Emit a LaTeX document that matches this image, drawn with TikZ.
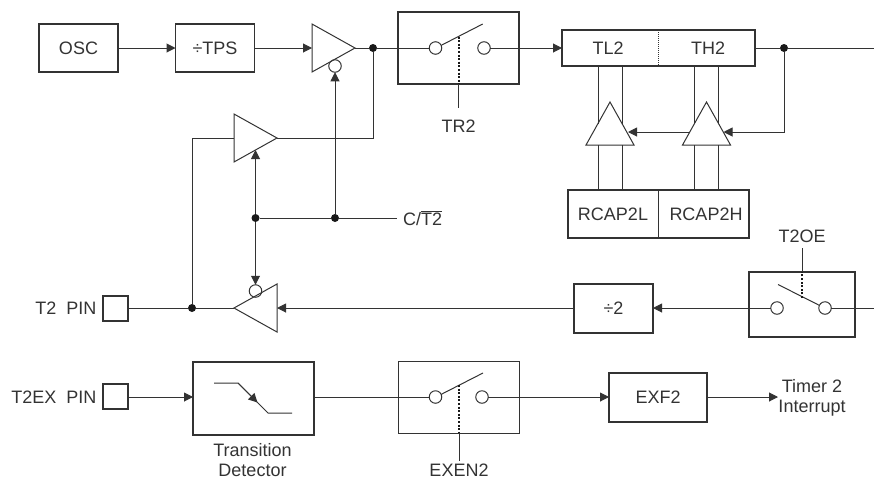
\documentclass[tikz,border=0pt]{standalone}
\usepackage{fontspec}
\setmainfont{Liberation Sans}
\usetikzlibrary{arrows.meta,shapes.geometric}
\definecolor{inkc}{gray}{0.2}
\tikzset{
    >={Triangle[length=9pt,width=9pt]},
    wire/.style={draw=inkc,line width=1pt},
    blockbox/.style={draw=inkc,line width=1.6pt,inner sep=0pt,outer sep=0pt,minimum width=#1},
    blockbox/.default=79pt,
    thinbox/.style={draw=inkc,line width=1pt,inner sep=0pt,outer sep=0pt},
    pinbox/.style={blockbox=25pt,minimum height=25pt},
    contact/.style={draw=inkc,circle,line width=1pt,inner sep=0pt,outer sep=0pt,minimum size=12.5pt},
    jdot/.style={fill=black!90,circle,inner sep=0pt,outer sep=0pt,minimum size=8pt},
    amp/.style={draw=inkc,line width=1pt,isosceles triangle,isosceles triangle stretches,
        inner sep=0pt,outer sep=0pt,shape border rotate=#1,anchor=lower side,
        minimum width=48pt,minimum height=43pt},
    lbl/.style={text=inkc,inner sep=0pt,align=center,font=\fontsize{18}{20.5}\selectfont},
    dots/.style={draw=black!90,line width=2pt,dash pattern=on 2pt off 1.6pt}
}
\begin{document}
\begin{tikzpicture}[x=1pt,y=-1pt]
    \useasboundingbox (0,0) rectangle (874,480);

    % top row
    \node[blockbox,minimum height=48pt] (osc) at (78.5,48) {};
    \node[lbl] at (osc) {OSC};
    \node[blockbox,minimum height=48pt] (tps) at (215,48) {};
    \node[lbl] at (tps) {÷TPS};
    \node[amp=0] (ampa) at (312,48) {};
    \node[contact] (bubblea) at (335,66) {};
    \node[jdot] (dota) at (373,48) {};
    \node[blockbox=121pt,minimum height=72pt] (swa) at (458.5,48) {};
    \node[contact] (cona) at (435.5,48) {};
    \node[contact] (conb) at (484,48) {};
    \coordinate (bladea) at (482.7,24);
    \coordinate (trd) at (458.5,36.5);
    \coordinate (trb) at (458.5,108);
    \node[lbl] (trlabel) at (458.5,126) {TR2};

    \draw[wire,->] (osc) -- (tps.west);
    \draw[wire,->] (tps) -- (ampa.lower side);
    \draw[wire] (ampa.apex) -- (dota) -- (cona);
    \draw[wire] (cona.25) -- (bladea);
    \draw[dots] (trd) -- (trd |- swa.south);
    \draw[wire] (trd |- swa.south) -- (trb);

    % timer registers
    \node[blockbox=193pt,minimum height=36pt] (cnt) at (658.5,48) {};
    \node[lbl] (tl) at (608,48) {TL2};
    \node[lbl] (th) at (708,48) {TH2};
    \node[blockbox=181pt,minimum height=48pt] (rcap) at (658.5,214) {};
    \node[lbl] (rl) at (613,214) {RCAP2L};
    \node[lbl] (rh) at (706,214) {RCAP2H};
    \node[amp=90] (bufl) at (610,145) {};
    \node[amp=90] (bufh) at (706.5,145) {};
    \node[jdot] (dotd) at (784,48) {};
    \coordinate (hr) at (723.5,132);
    \coordinate (hl) at (689,132);
    \coordinate (lr) at (628,132);
    \coordinate (outa) at (874,48);

    \draw[wire,->] (conb) -- (cnt.west);
    \draw[wire] (cnt.east) -- (dotd) -- (outa);
    \draw[wire,->] (dotd) |- (hr);
    \draw[wire,->] (hl) -- (lr);
    \draw[wire,densely dotted] (cnt.north) -- (cnt.south);
    \draw[wire] (rcap.north) -- (rcap.south);
    \foreach \n/\x in {la/598,lb/622,ha/694.5,hb/718} {
        \coordinate (\n) at (\x,123.5);
        \draw[wire] (\n |- cnt.south) -- (\n);
        \draw[wire] (\n |- rcap.north) -- (\n |- bufl.lower side);
    }

    % mode control
    \node[amp=0] (ampb) at (234,138) {};
    \node[amp=180] (ampc) at (277,308) {};
    \node[contact] (bubblec) at (255.5,291) {};
    \node[jdot] (dotb) at (255.5,218) {};
    \node[jdot] (dotc) at (335,218) {};
    \node[jdot] (dote) at (192,308) {};
    \coordinate (ctl) at (397,218);
    \node[lbl,anchor=west] (ctlabel) at (403,218) {C/$\overline{\mbox{T2}}$};

    \draw[wire,->] (dotc) -- (bubblea.south);
    \draw[wire] (dotb) -- (dotc) -- (ctl);
    \draw[wire,->] (dotb) -- (dotb |- ampb.right side);
    \draw[wire,->] (dotb) -- (bubblec.north);
    \draw[wire] (ampb.apex) -| (dota);
    \draw[wire] (ampb.lower side) -| (dote);

    % T2 pin row
    \node[pinbox] (tpin) at (115.5,308.5) {};
    \node[lbl,anchor=east] (tpinl) at (96.5,308) {T2\ \ PIN};
    \node[blockbox,minimum height=49pt] (dvd) at (613.5,308.5) {};
    \node[lbl] at (dvd) {÷2};
    \node[blockbox=106pt,minimum height=65pt] (swb) at (802,304.5) {};
    \node[contact] (conc) at (777,308) {};
    \node[contact] (cond) at (825,308) {};
    \coordinate (bladeb) at (778,284.5);
    \coordinate (ted) at (802,298);
    \coordinate (teb) at (802,248);
    \coordinate (outb) at (874,308);
    \node[lbl] (telabel) at (802,236) {T2OE};

    \draw[wire] (tpin.east |- dote) -- (dote) -- (ampc.apex);
    \draw[wire,->] (dvd.west |- ampc.lower side) -- (ampc.lower side);
    \draw[wire,->] (conc) -- (conc -| dvd.east);
    \draw[wire] (cond) -- (outb);
    \draw[wire] (cond.155) -- (bladeb);
    \draw[dots] (ted) -- (ted |- swb.north);
    \draw[wire] (ted |- swb.north) -- (teb);

    % T2EX row
    \node[pinbox] (expin) at (115.5,396.5) {};
    \node[lbl,anchor=east] (expinl) at (96.5,397) {T2EX\ \ PIN};
    \node[blockbox=121pt,minimum height=73pt] (det) at (253.5,398.5) {};
    \node[lbl] (detl) at (252.5,460) {Transition\\Detector};
    \node[thinbox,minimum width=121pt,minimum height=72pt] (swc) at (458.5,397) {};
    \node[contact] (cone) at (435.5,397) {};
    \node[contact] (conf) at (482,397) {};
    \coordinate (bladec) at (483,373);
    \coordinate (exd) at (459,385);
    \coordinate (exb) at (459,461);
    \node[lbl] (exl) at (459,470.5) {EXEN2};
    \node[blockbox=98pt,minimum height=49pt] (exf) at (658,397.5) {};
    \node[lbl] at (exf) {EXF2};
    \node[lbl] (irq) at (812,398) {Timer 2\\Interrupt};
    \coordinate (irqin) at (778,397);

    \draw[wire,->] (expin.east |- cone) -- (cone -| det.west);
    \draw[wire] (cone -| det.east) -- (cone);
    \draw[wire] (cone.25) -- (bladec);
    \draw[dots] (exd) -- (exd |- swc.south);
    \draw[wire] (exd |- swc.south) -- (exb);
    \draw[wire,->] (conf) -- (conf -| exf.west);
    \draw[wire,->] (conf -| exf.east) -- (irqin);
    \draw[wire] (214,383) -- (238,383) -- (268,413) -- (292,413);
    \draw[wire,->] (238,383) -- (257.5,402.5);
\end{tikzpicture}
\end{document}
